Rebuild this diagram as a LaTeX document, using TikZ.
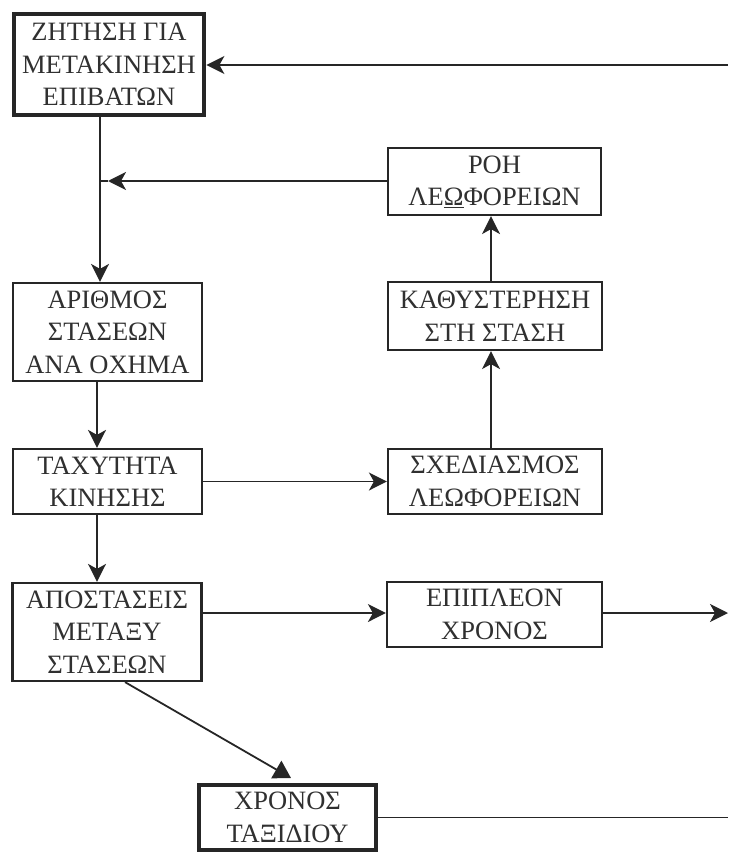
\documentclass[tikz,border=0pt]{standalone}
\usepackage{fontspec}
\setmainfont{Liberation Serif}
\usetikzlibrary{arrows.meta}
\definecolor{ink}{HTML}{262626}
\definecolor{txt}{HTML}{303030}
\begin{document}
\begin{tikzpicture}[x=1pt,y=-1pt,
  box/.style={draw=ink, line width=2.2pt, fill=white, inner sep=0pt, align=center,
    text=txt, font=\fontsize{26.5}{32.5}\selectfont},
  thickbox/.style={box, line width=4.8pt},
  conn/.style={draw=ink, line width=1.8pt},
  arr/.style={conn, -{Stealth[length=18pt,width=18pt,inset=5pt]}},
  tri/.style={conn, -{Triangle[length=17pt,width=20pt]}}]
\useasboundingbox (0,0) rectangle (728,853);

\node[thickbox, minimum width=190pt, minimum height=101pt] (zit) at (109,64.5) {ΖΗΤΗΣΗ ΓΙΑ\\ΜΕΤΑΚΙΝΗΣΗ\\ΕΠΙΒΑΤΩΝ};
\node[box, minimum width=213pt, minimum height=67pt] (roh) at (494.5,181.5) {ΡΟΗ\\ΛΕ\underline{Ω}ΦΟΡΕΙΩΝ};
\node[box, minimum width=214pt, minimum height=68pt] (kath) at (495,316) {ΚΑΘΥΣΤΕΡΗΣΗ\\ΣΤΗ ΣΤΑΣΗ};
\node[box, minimum width=189pt, minimum height=98pt] (arith) at (107.5,332) {ΑΡΙΘΜΟΣ\\ΣΤΑΣΕΩΝ\\ΑΝΑ ΟΧΗΜΑ};
\node[box, minimum width=189pt, minimum height=65pt] (tax) at (107.5,481.5) {ΤΑΧΥΤΗΤΑ\\ΚΙΝΗΣΗΣ};
\node[box, minimum width=214pt, minimum height=65pt] (sxed) at (495,481.5) {ΣΧΕΔΙΑΣΜΟΣ\\ΛΕΩΦΟΡΕΙΩΝ};
\node[box, minimum width=189pt, minimum height=98pt] (apo) at (107,632) {ΑΠΟΣΤΑΣΕΙΣ\\ΜΕΤΑΞΥ\\ΣΤΑΣΕΩΝ};
\node[box, minimum width=215pt, minimum height=65pt] (epi) at (494.5,614.5) {ΕΠΙΠΛΕΟΝ\\ΧΡΟΝΟΣ};
\node[thickbox, minimum width=177pt, minimum height=65pt] (xron) at (287.5,817.5) {ΧΡΟΝΟΣ\\ΤΑΞΙΔΙΟΥ};

\coordinate (vx) at (100,0);
\coordinate (vx2) at (97,0);
\coordinate (vx3) at (491,0);
\coordinate (r1) at (728,65);
\coordinate (rt) at (108,181);
\coordinate (hy) at (0,613);
\coordinate (r2) at (728,613);
\coordinate (r3) at (728,817.5);
\coordinate (d1) at (125,0);
\coordinate (dt) at (291,778);

\draw[arr] (r1) -- (r1 -| zit.east);
\draw[arr] (zit.south -| vx) -- (arith.north -| vx);
\draw[arr] (roh.west |- rt) -- (rt);
\draw[conn] (rt) -- (rt -| vx);
\draw[arr] (kath.north -| vx3) -- (roh.south -| vx3);
\draw[arr] (sxed.north -| vx3) -- (kath.south -| vx3);
\draw[arr] (arith.south -| vx2) -- (tax.north -| vx2);
\draw[arr] (tax.east) -- (sxed.west);
\draw[arr] (tax.south -| vx2) -- (apo.north -| vx2);
\draw[arr] (apo.east |- hy) -- (epi.west |- hy);
\draw[arr] (epi.east |- r2) -- (r2);
\draw[tri] (apo.south -| d1) -- (dt);
\draw[conn] (xron.east) -- (r3);
\end{tikzpicture}
\end{document}
